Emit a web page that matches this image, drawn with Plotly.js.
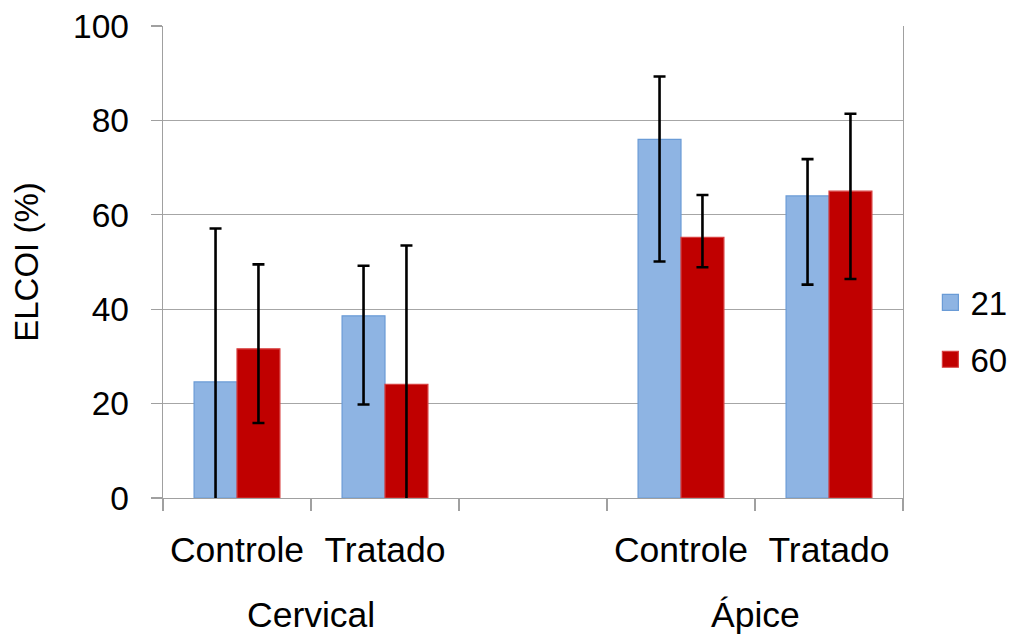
<!DOCTYPE html>
<html>
<head>
<meta charset="utf-8">
<script src="https://cdn.plot.ly/plotly-3.0.1.min.js"></script>
<style>html,body{margin:0;padding:0;background:#fff}#chart{width:1024px;height:636px}</style>
</head>
<body>
<div id="chart"></div>
<script>
// Category keys (unique) and the labels shown under them
const categoryKeys = ["Cervical Controle", "Cervical Tratado", " ", "Ápice Controle", "Ápice Tratado"];
const tickLabels = ["Controle", "Tratado", "", "Controle", "Tratado"];
const groupLabels = ["Cervical", "Ápice"];
const groupCenters = [0.5, 3.5];
const barCategories = ["Cervical Controle", "Cervical Tratado", "Ápice Controle", "Ápice Tratado"];

const seriesNames = ["21", "60"];
const values21 = [24.6, 38.6, 76.0, 64.0];
const errPlus21 = [32.5, 10.6, 13.3, 7.8];
const errMinus21 = [32.5, 18.8, 25.9, 18.8];
const values60 = [31.6, 24.1, 55.2, 65.0];
const errPlus60 = [17.9, 29.4, 9.0, 16.4];
const errMinus60 = [15.7, 29.4, 6.3, 18.6];

const yTickVals = [0, 20, 40, 60, 80, 100];

const FONT = '"Liberation Sans", Arial, sans-serif';
const BLUE = '#8EB4E3', BLUE_LINE = '#6A9BD6';
const RED = '#C00000', RED_LINE = '#D84040';

const errStyle = (plus, minus) => ({
  type: 'data', symmetric: false, array: plus, arrayminus: minus,
  color: '#000000', thickness: 2.6, width: 6
});

const traces = [
  {
    type: 'bar', name: seriesNames[0], x: barCategories, y: values21,
    showlegend: false,
    marker: {color: BLUE, line: {color: BLUE_LINE, width: 1.2}},
    error_y: errStyle(errPlus21, errMinus21),
    cliponaxis: true
  },
  {
    type: 'bar', name: seriesNames[1], x: barCategories, y: values60,
    showlegend: false,
    marker: {color: RED, line: {color: RED_LINE, width: 1.2}},
    error_y: errStyle(errPlus60, errMinus60),
    cliponaxis: true
  },
  // legend keys (no data drawn) so the key squares can be larger than the bar default
  {
    type: 'scatter', mode: 'markers', name: seriesNames[0], x: [null], y: [null],
    legendgroup: 'a', hoverinfo: 'skip',
    marker: {symbol: 'square', size: 20, color: BLUE, line: {color: BLUE_LINE, width: 1.2}}
  },
  {
    type: 'scatter', mode: 'markers', name: seriesNames[1], x: [null], y: [null],
    legendgroup: 'b', hoverinfo: 'skip',
    marker: {symbol: 'square', size: 20, color: RED, line: {color: RED_LINE, width: 1.2}}
  }
];

const layout = {
  width: 1024, height: 636,
  margin: {l: 163, r: 121, t: 26, b: 138},
  paper_bgcolor: '#ffffff', plot_bgcolor: '#ffffff',
  font: {family: FONT, size: 33, color: '#000000'},
  barmode: 'group', bargap: 0.42, bargroupgap: 0,
  showlegend: true,
  legend: {
    x: 1.037, y: 0.354, xanchor: 'left', yanchor: 'middle',
    font: {family: FONT, size: 33, color: '#000000'},
    traceorder: 'grouped', tracegroupgap: 11,
    itemwidth: 30, itemsizing: 'trace', bgcolor: 'rgba(0,0,0,0)'
  },
  xaxis: {
    type: 'category', categoryorder: 'array', categoryarray: categoryKeys,
    tickmode: 'array', tickvals: categoryKeys, ticktext: tickLabels,
    tickson: 'boundaries', ticks: 'outside', ticklen: 12, tickwidth: 1.3, tickcolor: '#A0A0A0',
    range: [-0.5, 4.5],
    showline: true, linecolor: '#A0A0A0', linewidth: 1.3,
    showgrid: false, zeroline: false,
    tickfont: {family: FONT, size: 35.5, color: '#000000'},
    ticklabelstandoff: 20
  },
  yaxis: {
    range: [0, 100], tickmode: 'array', tickvals: yTickVals,
    ticks: 'outside', ticklen: 11, tickwidth: 1.3, tickcolor: '#A0A0A0',
    showline: true, mirror: true, linecolor: '#A0A0A0', linewidth: 1.3,
    showgrid: true, gridcolor: '#A6A6A6', gridwidth: 1.3, zeroline: false,
    tickfont: {family: FONT, size: 33.5, color: '#000000'},
    ticklabelstandoff: 15,
    title: {text: 'ELCOI (%)', font: {family: FONT, size: 33, color: '#000000'}, standoff: 24}
  },
  annotations: groupLabels.map((t, i) => ({
    text: t, x: groupCenters[i], xref: 'x', y: -0.248, yref: 'paper',
    xanchor: 'center', yanchor: 'middle', showarrow: false,
    font: {family: FONT, size: 35.5, color: '#000000'}
  }))
};

Plotly.newPlot('chart', traces, layout, {displayModeBar: false, staticPlot: true});
</script>
</body>
</html>
